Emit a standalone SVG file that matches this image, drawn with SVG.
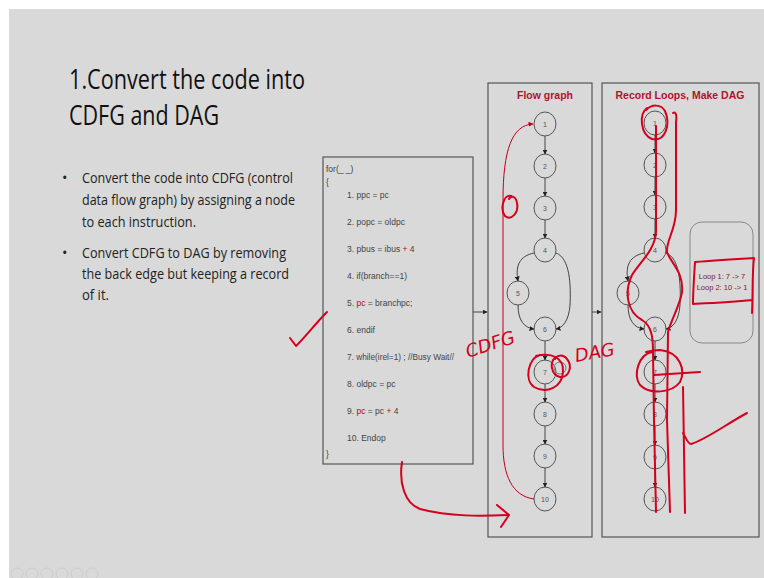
<svg xmlns="http://www.w3.org/2000/svg" width="764" height="578" viewBox="0 0 764 578">
<defs>
<style>
.title{font-family:"Open Sans","Liberation Sans",sans-serif;font-size:27px;fill:#111}
.bul{font-family:"Open Sans","Liberation Sans",sans-serif;font-size:14.5px;fill:#222}
.code{font-family:"Liberation Sans",Arial,sans-serif;font-size:8.5px;fill:#444}
.red{fill:#c0001a}
.panel{fill:none;stroke:#555;stroke-width:1.2}
.node ellipse{fill:none;stroke:#555;stroke-width:1}
.node text{font-family:"Liberation Sans",Arial,sans-serif;font-size:7px;fill:#555;text-anchor:middle}
.edge{fill:none;stroke:#444;stroke-width:1;marker-end:url(#ah)}
.hd{font-family:"Liberation Sans",Arial,sans-serif;font-size:10.5px;font-weight:bold;fill:#b5102e;text-anchor:middle}
.ink{fill:none;stroke:#d4001c;stroke-width:2;stroke-linecap:round;stroke-linejoin:round}
.hw{font-family:"DejaVu Sans",sans-serif;font-size:18px;fill:#d4001c;font-style:italic}
.icon{fill:none;stroke:#cdcdcd;stroke-width:1}
</style>
<marker id="ah" viewBox="0 0 10 10" refX="9" refY="5" markerWidth="5" markerHeight="5" orient="auto"><path d="M0,0 L10,5 L0,10 z" fill="#222"/></marker>
<marker id="ahr" viewBox="0 0 10 10" refX="9" refY="5" markerWidth="5" markerHeight="5" orient="auto"><path d="M0,0 L10,5 L0,10 z" fill="#c0001a"/></marker>
</defs>
<rect width="764" height="578" fill="#ffffff"/>
<rect x="9" y="9" width="755" height="569" fill="#d9d9d9"/>

<g id="title">
<text class="title" x="69" y="89" textLength="236" lengthAdjust="spacingAndGlyphs">1.Convert the code into</text>
<text class="title" x="69" y="125" textLength="150" lengthAdjust="spacingAndGlyphs">CDFG and DAG</text>
</g>
<g id="bullets">
<text class="bul" x="62" y="183">•</text>
<text class="bul" x="82" y="183" textLength="211" lengthAdjust="spacingAndGlyphs">Convert the code into CDFG (control</text>
<text class="bul" x="82" y="205" textLength="213" lengthAdjust="spacingAndGlyphs">data flow graph) by assigning a node</text>
<text class="bul" x="82" y="227" textLength="114" lengthAdjust="spacingAndGlyphs">to each instruction.</text>
<text class="bul" x="62" y="258">•</text>
<text class="bul" x="82" y="258" textLength="204" lengthAdjust="spacingAndGlyphs">Convert CDFG to DAG by removing</text>
<text class="bul" x="82" y="279" textLength="207" lengthAdjust="spacingAndGlyphs">the back edge but keeping a record</text>
<text class="bul" x="82" y="300" textLength="27" lengthAdjust="spacingAndGlyphs">of it.</text>
</g>

<g id="code">
<rect class="panel" x="323" y="157" width="150" height="307"/>
<text class="code" x="326" y="172">for(_ _)</text>
<text class="code" x="326" y="185">{</text>
<text class="code" x="347" y="198">1. ppc = pc</text>
<text class="code" x="347" y="225">2. popc = oldpc</text>
<text class="code" x="347" y="252">3. pbus = ibus <tspan class="red">+</tspan> 4</text>
<text class="code" x="347" y="279">4. if(branch==1)</text>
<text class="code" x="347" y="306">5. <tspan class="red">pc</tspan> = branchpc;</text>
<text class="code" x="347" y="333">6. endif</text>
<text class="code" x="347" y="360" textLength="107" lengthAdjust="spacingAndGlyphs">7. while(irel=1) ; //Busy Wait//</text>
<text class="code" x="347" y="387">8. oldpc = pc</text>
<text class="code" x="347" y="414">9. <tspan class="red">pc</tspan> = pc <tspan class="red">+</tspan> 4</text>
<text class="code" x="347" y="441">10. Endop</text>
<text class="code" x="326" y="457">}</text>
</g>

<g id="flowpanel">
<rect class="panel" x="488" y="83" width="104" height="454"/>
<text class="hd" x="545" y="99">Flow graph</text>
</g>
<g id="dagpanel">
<rect class="panel" x="602" y="83" width="157" height="454"/>
<text class="hd" x="680" y="99">Record Loops, Make DAG</text>
</g>

<g id="f1" class="node"><ellipse cx="545" cy="124" rx="11" ry="12"/><text x="545" y="126.5">1</text></g>
<g id="f2" class="node"><ellipse cx="545" cy="166" rx="11" ry="12"/><text x="545" y="168.5">2</text></g>
<g id="f3" class="node"><ellipse cx="545" cy="208" rx="11" ry="12"/><text x="545" y="210.5">3</text></g>
<g id="f4" class="node"><ellipse cx="545" cy="250" rx="11" ry="12"/><text x="545" y="252.5">4</text></g>
<g id="f5" class="node"><ellipse cx="518" cy="293" rx="11" ry="12"/><text x="518" y="295.5">5</text></g>
<g id="f6" class="node"><ellipse cx="545" cy="329" rx="11" ry="12"/><text x="545" y="331.5">6</text></g>
<g id="f7" class="node"><ellipse cx="545" cy="372" rx="11" ry="12"/><text x="545" y="374.5">7</text></g>
<g id="f8" class="node"><ellipse cx="545" cy="414" rx="11" ry="12"/><text x="545" y="416.5">8</text></g>
<g id="f9" class="node"><ellipse cx="545" cy="456" rx="11" ry="12"/><text x="545" y="458.5">9</text></g>
<g id="f10" class="node"><ellipse cx="545" cy="499" rx="11" ry="12"/><text x="545" y="501.5">10</text></g>

<g id="d1" class="node"><ellipse cx="655" cy="123" rx="11" ry="12"/><text x="655" y="125.5">1</text></g>
<g id="d2" class="node"><ellipse cx="655" cy="165" rx="11" ry="12"/><text x="655" y="167.5">2</text></g>
<g id="d3" class="node"><ellipse cx="655" cy="207" rx="11" ry="12"/><text x="655" y="209.5">3</text></g>
<g id="d4" class="node"><ellipse cx="655" cy="250" rx="11" ry="12"/><text x="655" y="252.5">4</text></g>
<g id="d5" class="node"><ellipse cx="628" cy="293" rx="11" ry="12"/><text x="628" y="295.5">5</text></g>
<g id="d6" class="node"><ellipse cx="655" cy="329" rx="11" ry="12"/><text x="655" y="331.5">6</text></g>
<g id="d7" class="node"><ellipse cx="655" cy="372" rx="11" ry="12"/><text x="655" y="374.5">7</text></g>
<g id="d8" class="node"><ellipse cx="655" cy="414" rx="11" ry="12"/><text x="655" y="416.5">8</text></g>
<g id="d9" class="node"><ellipse cx="655" cy="457" rx="11" ry="12"/><text x="655" y="459.5">9</text></g>
<g id="d10" class="node"><ellipse cx="655" cy="499" rx="11" ry="12"/><text x="655" y="501.5">10</text></g>

<g id="looprecord">
<rect x="690" y="222" width="63" height="121" rx="12" fill="none" stroke="#888" stroke-width="1"/>
<text x="722" y="279" font-family="Liberation Sans,Arial,sans-serif" font-size="7.5" fill="#7a1a2a" text-anchor="middle">Loop 1: 7 -&gt; 7</text>
<text x="722" y="290" font-family="Liberation Sans,Arial,sans-serif" font-size="7.5" fill="#7a1a2a" text-anchor="middle">Loop 2: 10 -&gt; 1</text>
</g>

<g id="connectors">
<path class="edge" d="M473,312 L487,312"/>
<path class="edge" d="M592,312 L601,312"/>
<path class="edge" d="M545,136 L545,154"/>
<path class="edge" d="M545,178 L545,196"/>
<path class="edge" d="M545,220 L545,238"/>
<path class="edge" d="M534,253 C520,256 515,265 518,281"/>
<path class="edge" d="M556,253 C570,258 571,285 570,305 C569,320 563,328 556,329"/>
<path class="edge" d="M518,305 C518,320 524,328 534,329"/>
<path class="edge" d="M545,341 L545,360"/>
<path class="edge" d="M545,384 L545,402"/>
<path class="edge" d="M545,426 L545,444"/>
<path class="edge" d="M545,468 L545,487"/>
<circle cx="560" cy="368" r="6" fill="none" stroke="#777" stroke-width="1"/>
<path d="M534,499 C512,496 503,475 503,445 L503,200 C503,150 512,125 533,124" fill="none" stroke="#c0001a" stroke-width="1" marker-end="url(#ahr)"/>
<path class="edge" d="M655,135 L655,153"/>
<path class="edge" d="M655,177 L655,195"/>
<path class="edge" d="M655,219 L655,238"/>
<path class="edge" d="M644,253 C630,256 625,265 628,281"/>
<path class="edge" d="M666,253 C680,258 681,285 680,305 C679,320 673,328 666,329"/>
<path class="edge" d="M628,305 C628,320 634,328 644,329"/>
<path class="edge" d="M655,341 L655,360"/>
<path class="edge" d="M655,384 L655,402"/>
<path class="edge" d="M655,426 L655,445"/>
<path class="edge" d="M655,469 L655,487"/>
</g>

<g id="annotations">
<path class="ink" d="M290,338 L296,346 C306,336 316,323 327,312"/>
<path class="ink" d="M511,196 C503,194 500,210 505,216 C511,221 519,213 517,203 C516,196 511,195 509,199"/>
<path class="ink" d="M402,462 C399,482 404,503 420,509 C450,517 482,516 508,515"/>
<path class="ink" d="M497,505 L509,515 L501,527"/>
<text class="hw" transform="translate(468,358) rotate(-18)">CDFG</text>
<path class="ink" d="M540,355 C528,358 524,380 534,387 C546,394 562,388 563,372 C564,358 552,352 536,356"/>
<path class="ink" d="M556,357 C549,362 551,375 560,377 C569,378 573,366 567,359 C563,354 557,355 555,359"/>
<text class="hw" transform="translate(576,362) rotate(-10)">DAG</text>
<path class="ink" d="M647,108 C639,114 640,134 652,139 C665,142 671,125 665,111 C661,104 652,104 646,110"/>
<path class="ink" d="M656,126 L656,232 C655,250 640,262 632,275 C624,292 627,312 642,320 C652,326 653,338 653,352 L654,420 L656,512"/>
<path class="ink" d="M673,113 C676,111 677,116 676,122 L676,210 C676,230 666,240 667,252 C670,262 684,272 682,292 C680,305 672,318 668,332 L667,420 L670,512"/>
<path class="ink" d="M652,352 C638,355 633,375 640,385 C650,395 672,393 680,382 C686,370 680,352 660,350 C654,350 650,351 646,352"/>
<path class="ink" d="M654,375 L700,372"/>
<path class="ink" d="M683,387 L684,450 L685,513"/>
<path class="ink" d="M683,433 C686,438 688,444 691,444 C705,440 725,425 747,413"/>
<path class="ink" d="M695,262 C715,260 735,259 754,258 C752,275 753,295 752,313 M695,262 C694,278 693,292 693,304 C712,303 732,302 752,300"/>
</g>

<g id="toolbar">
<circle class="icon" cx="17" cy="574" r="6"/>
<circle class="icon" cx="32" cy="574" r="6"/>
<circle class="icon" cx="47" cy="574" r="6"/>
<circle class="icon" cx="62" cy="574" r="6"/>
<circle class="icon" cx="77" cy="574" r="6"/>
<circle class="icon" cx="92" cy="574" r="6"/>
</g>
</svg>
